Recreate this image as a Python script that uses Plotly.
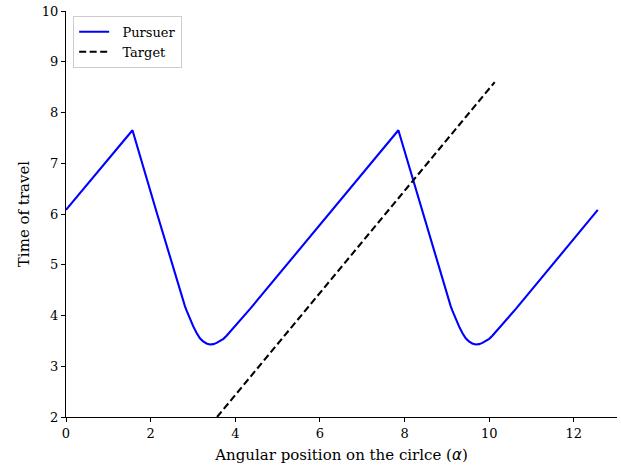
import plotly.graph_objects as go

# Pursuer curve
pursuer_x = [0.0, 1.571, 2.14, 2.457, 2.615, 2.69, 2.73, 2.77, 2.81, 2.85, 2.89, 2.93, 3.01, 3.09, 3.165, 3.24, 3.32, 3.40, 3.48, 3.56, 3.64, 3.72, 3.795, 3.87, 3.99, 4.11, 4.35,
             7.854, 8.42, 8.737, 8.895, 8.97, 9.01, 9.05, 9.09, 9.13, 9.17, 9.21, 9.29, 9.37, 9.445, 9.52, 9.60, 9.68, 9.76, 9.84, 9.92, 10.00, 10.075, 10.15, 10.27, 10.39, 10.63, 12.566]
pursuer_y = [6.08, 7.65, 6.04, 5.14, 4.72, 4.50, 4.39, 4.285, 4.185, 4.095, 4.01, 3.93, 3.78, 3.65, 3.55, 3.49, 3.45, 3.43, 3.435, 3.46, 3.495, 3.54, 3.60, 3.67, 3.785, 3.90, 4.13,
             7.65, 6.04, 5.14, 4.72, 4.50, 4.39, 4.285, 4.185, 4.095, 4.01, 3.93, 3.78, 3.65, 3.55, 3.49, 3.45, 3.43, 3.435, 3.46, 3.495, 3.54, 3.60, 3.67, 3.785, 3.90, 4.13, 6.08]

# Target line
target_x = [3.57, 10.13]
target_y = [2.0, 8.60]

x_ticks = [0, 2, 4, 6, 8, 10, 12]
y_ticks = [2, 3, 4, 5, 6, 7, 8, 9, 10]

FONT = "DejaVu Serif"

fig = go.Figure()
fig.add_trace(go.Scatter(x=pursuer_x, y=pursuer_y, mode="lines", name="&nbsp;&nbsp;Pursuer",
                         line=dict(color="#0000ff", width=2.1)))
fig.add_trace(go.Scatter(x=target_x, y=target_y, mode="lines", name="&nbsp;&nbsp;Target",
                         line=dict(color="#000000", width=2.1, dash="7px,3.5px")))

axis_common = dict(showgrid=False, zeroline=False, showline=True, linecolor="black", linewidth=1,
                   ticks="outside", ticklen=4, tickwidth=1, tickcolor="black",
                   tickfont=dict(family=FONT, size=13, color="black"))

fig.update_layout(
    width=621, height=470,
    margin=dict(l=66, r=4, t=9, b=53),
    plot_bgcolor="white", paper_bgcolor="white",
    font=dict(family=FONT, size=13, color="black"),
    xaxis=dict(range=[0, 13.02], tickvals=x_ticks, **axis_common,
               title=dict(text='Angular position on the cirlce (<span style="font-family:DejaVu Sans"><i>α</i></span>)',
                          font=dict(family=FONT, size=15), standoff=9)),
    yaxis=dict(range=[2, 10], tickvals=y_ticks, **axis_common,
               title=dict(text="Time of travel", font=dict(family=FONT, size=15), standoff=8)),
    legend=dict(x=0.013, y=0.988, xanchor="left", yanchor="top",
                bordercolor="#cccccc", borderwidth=1, bgcolor="rgba(255,255,255,0.8)",
                font=dict(family=FONT, size=13), tracegroupgap=0),
    showlegend=True,
)

fig.write_html("out.html")
